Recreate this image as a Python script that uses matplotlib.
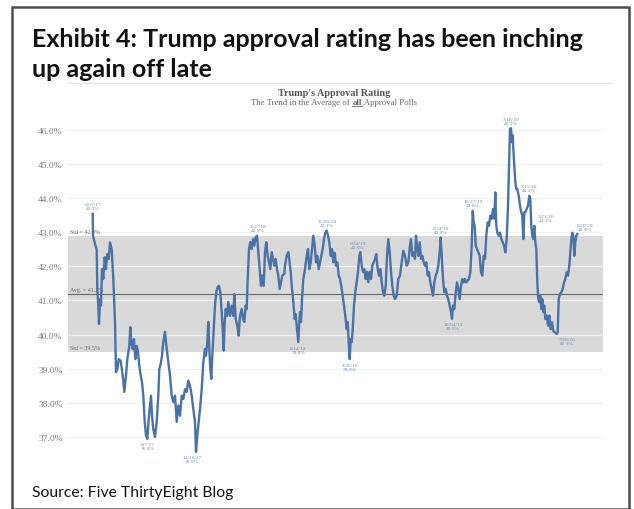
import matplotlib
matplotlib.use("Agg")
import matplotlib.pyplot as plt
import matplotlib.transforms as mtransforms
from matplotlib.patches import Rectangle
from matplotlib.lines import Line2D

# time index (approx. 2.75 days per step, starting at first plotted poll average)
t = [0.7, 1.0, 3.0, 4.7, 5.3, 6.3, 7.0, 8.0, 9.0, 10.0, 11.3, 12.7, 14.0, 15.3, 16.7, 18.0, 19.7, 21.3,
     23.0, 24.0, 25.3, 26.7, 28.7, 30.7, 32.3, 34.0, 35.3, 37.3, 38.3, 39.3, 40.7, 42.0, 43.3, 44.7, 46.0,
     47.3, 48.7, 50.0, 51.3, 52.7, 54.0, 55.3, 56.7, 58.0, 59.0, 60.0, 61.3, 63.0, 64.7, 66.3, 67.3, 68.7,
     70.0, 71.3, 73.0, 74.7, 76.3, 78.0, 79.7, 81.3, 83.0, 84.7, 86.3, 88.0, 89.7, 91.3, 93.0, 94.7, 96.3,
     98.0, 99.7, 101.3, 103.0, 104.0, 105.3, 106.3, 108.0, 109.7, 111.3, 113.0, 114.0, 115.3, 116.3, 117.3,
     118.3, 119.3, 120.3, 121.7, 123.0, 124.3, 125.7, 127.0, 128.3, 129.7, 130.7, 131.7, 132.7, 133.7, 135.0,
     136.3, 138.0, 139.7, 141.3, 142.3, 143.7, 145.3, 146.7, 148.0, 149.7, 151.0, 152.3, 153.7, 154.7, 155.7,
     157.0, 158.3, 159.7, 161.0, 162.3, 163.7, 165.0, 166.3, 167.7, 169.0, 170.3, 171.7, 173.0, 174.3, 175.7,
     177.0, 178.3, 179.7, 181.0, 182.3, 183.7, 185.0, 186.3, 187.7, 189.0, 190.3, 192.3, 193.0, 194.7, 196.3,
     197.3, 198.7, 200.0, 201.3, 202.7, 203.7, 204.7, 205.7, 206.3, 207.3, 208.0, 209.0, 210.0, 211.3, 213.0,
     214.7, 216.0, 217.3, 218.7, 220.0, 221.3, 222.7, 224.0, 225.3, 226.7, 228.0, 229.3, 230.7, 232.0, 233.3,
     234.7, 236.0, 237.3, 238.7, 240.0, 241.3, 242.7, 244.0, 245.3, 246.7, 248.0, 249.3, 250.7, 252.0, 253.3,
     254.7, 255.7, 256.7, 257.7, 258.7, 259.7, 260.7, 262.0, 263.3, 264.7, 266.0, 267.3, 268.3, 269.7, 271.0,
     272.3, 273.7, 275.0, 276.3, 277.7, 279.0, 280.3, 281.7, 283.0, 284.3, 285.7, 287.0, 288.3, 289.7, 291.0,
     292.3, 293.7, 295.0, 296.3, 297.7, 299.0, 300.3, 301.7, 303.0, 304.7, 306.3, 308.0, 309.7, 311.3, 313.0,
     314.7, 316.3, 318.0, 319.0, 320.3, 321.7, 323.0, 324.0, 325.0, 326.3, 327.7, 329.0, 330.3, 331.7, 333.0,
     334.3, 335.7, 337.0, 338.3, 339.7, 341.0, 342.3, 343.7, 345.0, 346.3, 347.7, 348.7, 349.7, 351.0, 352.3,
     353.7, 355.0, 356.3, 357.7, 359.0, 360.0, 361.0, 362.3, 363.7, 365.0, 366.3, 367.7, 369.0, 370.3, 371.7,
     373.0, 374.3, 375.7, 377.0, 378.3, 379.7, 380.7, 381.7, 382.7, 383.7, 385.0, 386.3, 387.7, 389.0, 390.3,
     391.7, 393.0, 394.3, 395.7, 397.0, 398.3, 399.7, 401.0, 402.3, 403.3, 404.3, 405.3, 406.7, 408.0, 409.3,
     410.7, 412.0, 413.3, 414.7, 416.0, 417.0, 418.0, 419.0, 420.0, 420.7, 421.3, 422.3, 423.3, 424.3, 425.3,
     426.7, 428.0, 429.3, 430.3, 431.3, 432.3, 433.3, 434.7, 436.0, 437.3, 438.3, 439.3, 440.3, 441.3, 442.3,
     443.3, 444.3, 445.3, 446.3, 447.3, 448.3, 449.3, 450.3, 451.3, 452.3, 453.3, 454.7, 456.0, 457.3, 458.7,
     460.0, 461.3, 463.0, 464.7, 465.7, 466.7, 468.0, 469.3, 470.7, 472.0, 473.3, 474.7, 476.0, 477.3, 478.3,
     479.3, 480.3, 481.3, 482.3, 483.3, 484.3, 485.3]

approval = [43.54, 42.90, 42.66, 42.50, 41.34, 40.85, 40.31, 41.04, 40.85, 41.92, 41.63, 42.27, 41.92, 42.36,
            42.22, 42.70, 42.50, 41.63, 40.37, 38.90, 38.99, 39.28, 39.23, 38.80, 38.32, 38.80, 39.28, 39.67,
            40.22, 39.78, 39.58, 39.87, 39.28, 39.67, 39.49, 39.09, 38.80, 38.61, 38.21, 37.44, 37.04, 36.94,
            37.53, 37.92, 38.21, 37.62, 37.23, 37.00, 37.44, 38.21, 38.99, 39.14, 39.38, 39.78, 40.08, 39.58,
            39.19, 38.80, 38.21, 38.02, 38.21, 37.44, 37.92, 37.62, 38.21, 38.11, 38.40, 38.32, 38.65, 38.50,
            38.21, 37.82, 37.44, 36.56, 37.04, 37.33, 37.82, 38.40, 39.19, 39.58, 39.38, 39.78, 40.37, 39.58,
            38.99, 38.70, 39.38, 40.16, 40.85, 41.25, 41.40, 41.43, 41.25, 40.66, 40.16, 39.53, 40.37, 40.75,
            40.55, 40.96, 40.55, 40.85, 40.55, 41.19, 40.46, 40.26, 39.97, 40.55, 40.75, 40.46, 40.37, 40.85,
            40.75, 41.63, 42.51, 42.71, 42.51, 42.80, 42.61, 42.86, 42.90, 42.42, 41.92, 41.43, 41.73, 41.43,
            42.42, 42.71, 42.31, 42.12, 41.92, 42.42, 42.22, 42.02, 42.22, 41.92, 41.73, 41.34, 41.54, 41.73,
            41.78, 42.02, 42.31, 42.42, 42.20, 41.84, 41.34, 40.96, 40.46, 40.60, 40.26, 39.97, 39.78, 40.37,
            40.66, 40.37, 41.04, 41.63, 41.92, 42.31, 42.51, 41.92, 42.12, 42.51, 42.90, 42.61, 42.12, 42.31,
            41.92, 42.12, 42.31, 42.51, 42.80, 43.00, 43.05, 42.90, 42.71, 42.31, 42.51, 42.12, 42.40, 42.02,
            42.12, 41.73, 41.63, 41.43, 41.14, 40.85, 40.55, 40.16, 40.37, 39.78, 39.28, 39.87, 39.78, 40.16,
            40.85, 41.25, 41.54, 41.84, 42.31, 42.42, 42.02, 41.84, 41.92, 41.63, 41.84, 41.54, 41.84, 41.63,
            42.02, 42.12, 42.22, 42.36, 41.92, 41.73, 41.92, 41.54, 41.25, 41.14, 41.43, 42.31, 42.80, 42.42,
            41.84, 41.43, 41.14, 41.04, 41.14, 41.63, 41.73, 42.12, 42.46, 42.31, 42.02, 42.12, 42.61, 42.80,
            42.31, 42.41, 42.22, 42.90, 42.61, 42.31, 42.71, 42.22, 42.31, 42.12, 42.02, 42.12, 41.73, 41.83,
            41.53, 41.34, 41.14, 41.53, 41.73, 41.83, 42.02, 42.42, 42.85, 42.31, 41.63, 41.24, 41.34, 41.14,
            41.04, 40.85, 40.66, 40.46, 40.85, 40.75, 41.24, 41.53, 41.34, 41.04, 41.43, 41.63, 41.53, 41.63,
            41.53, 41.58, 41.63, 41.83, 42.61, 43.63, 43.29, 43.19, 42.61, 42.51, 42.41, 42.31, 41.83, 41.73,
            42.31, 42.22, 42.90, 43.29, 43.19, 43.49, 43.39, 43.68, 43.40, 44.17, 43.19, 42.99, 42.90, 42.99,
            42.80, 42.71, 42.61, 42.41, 42.80, 43.78, 44.95, 46.03, 46.05, 45.64, 45.84, 45.44, 44.95, 44.47,
            44.27, 44.27, 44.07, 43.78, 43.59, 43.49, 42.80, 43.59, 43.59, 43.68, 43.78, 44.07, 43.98, 43.19,
            42.90, 42.80, 43.19, 42.71, 42.51, 41.53, 41.04, 40.95, 41.14, 40.75, 41.04, 40.66, 40.85, 40.46,
            40.56, 40.26, 40.56, 40.16, 40.36, 40.11, 40.06, 40.02, 40.06, 41.04, 41.19, 41.24, 41.34, 41.53,
            41.63, 41.83, 41.73, 42.02, 42.41, 42.80, 42.99, 42.90, 42.31, 42.71, 42.90, 42.95]

avg_value = 41.2
std_high = 42.9
std_low = 39.5

y_ticks = [36, 37, 38, 39, 40, 41, 42, 43, 44, 45, 46]
y_labels = ["", "37.0%", "38.0%", "39.0%", "40.0%", "41.0%", "42.0%", "43.0%", "44.0%", "45.0%", "46.0%"]

# annotated turning points: time index, label, above/below, horizontal shift (px)
note_t = [0.7, 55.3, 104.0, 165.0, 206.3, 234.7, 257.7, 268.3, 348.7, 360.0, 380.7, 419.0, 437.3, 442.3, 464.7, 485.3]
note_text = ["2/07/17\n43.5%", "8/7/17\n36.8%", "12/16/17\n36.5%", "2/27/18\n42.9%", "9/14/18\n39.8%",
             "11/05/18\n43.1%", "1/26/19\n39.3%", "6/24/19\n42.6%", "9/24/19\n42.9%", "10/04/19\n40.5%",
             "10/27/19\n43.6%", "3/18/20\n46.2%", "5/15/20\n44.1%", "5/21/20\n43.2%", "7/28/20\n40.1%",
             "9/20/20\n42.9%"]
note_side = ["up", "down", "down", "up", "down", "up", "down", "up", "up", "down", "up", "up", "up", "up", "down", "up"]
note_dx = [0, 0, -4, 1, 0, 0, 0, -2, 0, 1, 0, 0, 0, 12, 10, 8]

W, H = 634, 510
fig = plt.figure(figsize=(W / 100, H / 100), dpi=100)
fig.patch.set_facecolor("white")

# outer frame
fig.add_artist(Rectangle((12 / W, 0), (629 - 12) / W, (H - 8) / H, transform=fig.transFigure,
                         fill=False, edgecolor="#4d4d4d", linewidth=1.8))
# top edge of pasted chart image
fig.add_artist(Line2D([68 / W, 612 / W], [1 - 84 / H, 1 - 84 / H], transform=fig.transFigure,
                      color="#e4e4e4", linewidth=1.0))

fig.text(32 / W, 1 - 40 / H, "Exhibit 4: Trump approval rating has been inching", fontsize=18,
         fontweight="bold", family="Lato", va="center", ha="left", color="#111111")
fig.text(32 / W, 1 - 70 / H, "up again off late", fontsize=18,
         fontweight="bold", family="Lato", va="center", ha="left", color="#111111")
fig.text(32 / W, 1 - 493 / H, "Source: Five ThirtyEight Blog", fontsize=11.3,
         family="Lato", va="center", ha="left", color="#111111")

# chart title / subtitle ("all" bold and underlined)
fig.text(334 / W, 1 - 93 / H, "Trump's Approval Rating", fontsize=7.3, fontweight="bold",
         family="Liberation Serif", ha="center", va="center", color="#555555")
renderer = fig.canvas.get_renderer()
sub_parts = [("The Trend in the Average of ", "normal"), ("all", "bold"), (" Approval Polls", "normal")]
sub_texts = []
for s, w in sub_parts:
    sub_texts.append(fig.text(0, 1 - 103 / H, s, fontsize=6.3, fontweight=w, family="Liberation Serif",
                              ha="left", va="center", color="#666666"))
widths = [tx.get_window_extent(renderer).width for tx in sub_texts]
x0 = 334 - sum(widths) / 2
for tx, w in zip(sub_texts, widths):
    tx.set_x(x0 / W)
    if tx.get_text() == "all":
        fig.add_artist(Line2D([x0 / W, (x0 + w) / W], [1 - 107 / H, 1 - 107 / H], transform=fig.transFigure,
                              color="#666666", linewidth=0.6))
    x0 += w

ax = fig.add_axes([68 / W, 1 - 472 / H, (603 - 68) / W, (472 - 84) / H])
ax.set_xlim(-24, 511)
ax.set_ylim(36.0, 46.0 + (131 - 84) / 34.1)

ax.axhspan(std_low, std_high, color="#d9d9d9", zorder=0, linewidth=0)
for v in y_ticks:
    ax.axhline(v, color="#f1f1f1", linewidth=0.9, zorder=1)
ax.axhline(avg_value, color="#6b6b6b", linewidth=0.8, zorder=2)

ax.plot(t, approval, color="#4a72a6", linewidth=1.7, zorder=3, solid_joinstyle="round")

lbl = mtransforms.blended_transform_factory(ax.transAxes, ax.transData)
ax.text(0.004, std_high + 0.04, f"Std = {std_high:.1f}%", transform=lbl, fontsize=4.3,
        family="Liberation Serif", color="#666666", va="bottom", ha="left")
ax.text(0.004, avg_value + 0.04, f"Avg. = {avg_value:.1f}%", transform=lbl, fontsize=4.3,
        family="Liberation Serif", color="#666666", va="bottom", ha="left")
ax.text(0.004, std_low + 0.04, f"Std = {std_low:.1f}%", transform=lbl, fontsize=4.3,
        family="Liberation Serif", color="#666666", va="bottom", ha="left")

for nt, txt, side, dx in zip(note_t, note_text, note_side, note_dx):
    i = min(range(len(t)), key=lambda k: abs(t[k] - nt))
    dy = 2.5 if side == "up" else -2.5
    ax.annotate(txt, (t[i], approval[i]), xytext=(dx * 0.72, dy), textcoords="offset points",
                ha="center", va="bottom" if side == "up" else "top", fontsize=3.9,
                family="Liberation Serif", color="#6d8cba", linespacing=1.0, zorder=4)

ax.set_yticks(y_ticks)
ax.set_yticklabels(y_labels, family="Liberation Serif", fontsize=6.8, color="#7a7a7a")
ax.set_xticks([])
ax.tick_params(axis="y", length=0, pad=3.6)
for s in ax.spines.values():
    s.set_visible(False)
ax.patch.set_alpha(0)

fig.savefig("out.png", dpi=100)
